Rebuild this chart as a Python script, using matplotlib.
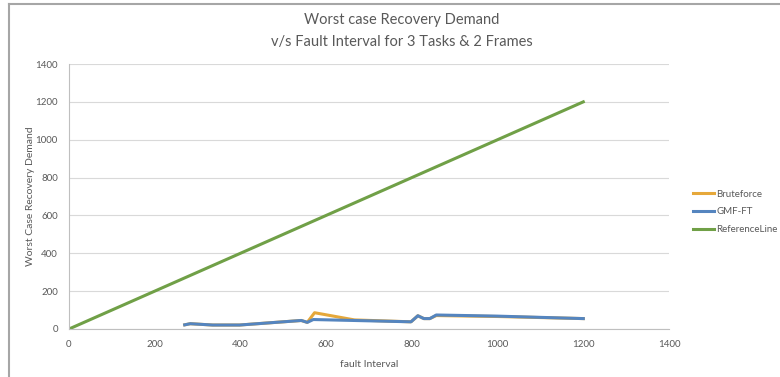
import matplotlib.pyplot as plt
from matplotlib.lines import Line2D

plt.rcParams['font.family'] = ['Lato', 'DejaVu Sans']

# fault interval vs. worst case recovery demand
gmf_x = [270, 283, 335, 398, 542, 556, 570, 798, 814, 828, 842, 857, 1000, 1200]
gmf_y = [22, 28, 21, 21, 45, 35, 50, 38, 70, 55, 55, 74, 68, 55]

brute_x = [270, 283, 335, 398, 542, 556, 573, 666, 798, 814, 828, 842, 857, 1000, 1200]
brute_y = [22, 28, 21, 21, 45, 35, 86, 48, 38, 70, 55, 55, 71, 66, 55]

ref_x = [0, 1200]
ref_y = [0, 1200]

x_ticks = [0, 200, 400, 600, 800, 1000, 1200, 1400]
y_ticks = [0, 200, 400, 600, 800, 1000, 1200, 1400]

txt = '#595959'

fig = plt.figure(figsize=(7.8, 3.77), dpi=100)
ax = fig.add_axes([69 / 780, 48 / 377, 600 / 780, 265 / 377])

l1, = ax.plot(brute_x, brute_y, color='#E6A83A', lw=2.2, label='Bruteforce')
l2, = ax.plot(gmf_x, gmf_y, color='#5585BF', lw=2.2, label='GMF-FT')
l3, = ax.plot(ref_x, ref_y, color='#70A047', lw=2.2, label='ReferenceLine')

ax.set_xlim(0, 1400)
ax.set_ylim(0, 1400)
ax.set_xticks(x_ticks)
ax.set_yticks(y_ticks)
ax.tick_params(length=0, labelsize=7, colors=txt, pad=8)
ax.grid(axis='y', color='#d9d9d9', lw=0.8)
ax.set_axisbelow(True)
for s in ['top', 'right']:
    ax.spines[s].set_visible(False)
for s in ['left', 'bottom']:
    ax.spines[s].set_color('#bfbfbf')
    ax.spines[s].set_linewidth(0.8)

ax.set_xlabel('fault Interval', fontsize=7.5, color=txt)
ax.set_ylabel('Worst Case Recovery Demand', fontsize=7.5, color=txt)
ax.xaxis.set_label_coords(0.5, -0.118)
ax.yaxis.set_label_coords(-0.056, 0.5)

fig.text(402 / 780, 1 - 20 / 377, 'Worst case Recovery Demand', ha='center', va='center',
         fontsize=10.5, color=txt)
fig.text(402 / 780, 1 - 42 / 377, 'v/s Fault Interval for 3 Tasks & 2 Frames', ha='center',
         va='center', fontsize=10.5, color=txt)

fig.legend(handles=[l1, l2, l3], loc='center left', bbox_to_anchor=(688 / 780, 1 - 212 / 377),
           frameon=False, fontsize=7, labelcolor=txt, handlelength=2.2, handletextpad=0.2,
           labelspacing=0.9, borderpad=0)

# outer frame edges
fig.add_artist(Line2D([9 / 780, 1], [1 - 4 / 377, 1 - 4 / 377], color='#a6a6a6', lw=1.5,
                      transform=fig.transFigure))
fig.add_artist(Line2D([9 / 780, 9 / 780], [0, 1 - 4 / 377], color='#a6a6a6', lw=1.5,
                      transform=fig.transFigure))

fig.savefig('out.png', dpi=100)
